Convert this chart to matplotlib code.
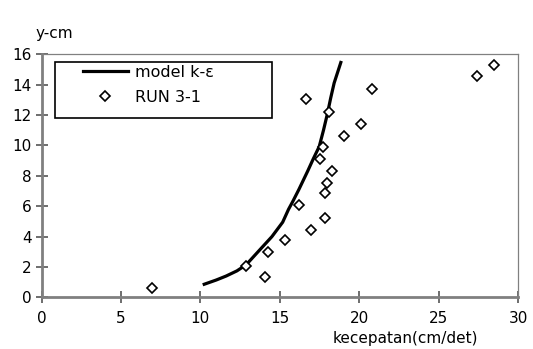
import numpy as np
import matplotlib
matplotlib.use('Agg')
import matplotlib.pyplot as plt
from matplotlib.patches import Rectangle

plt.rcParams['font.family'] = ['DejaVu Sans']

# measured points, RUN 3-1
run_x = [6.96, 12.88, 14.05, 14.24, 15.33, 16.98, 17.82, 16.2, 17.82, 17.94,
         18.28, 17.52, 17.69, 19.05, 20.14, 18.07, 16.65, 20.79, 27.42, 28.5]
run_y = [0.65, 2.09, 1.35, 2.97, 3.76, 4.44, 5.25, 6.06, 6.85, 7.55,
         8.34, 9.13, 9.92, 10.62, 11.41, 12.2, 13.04, 13.72, 14.53, 15.3]

# model k-eps profile
model_x = [10.24, 11.0, 11.62, 12.3, 12.88, 13.71, 14.5, 15.18, 15.55, 15.81,
           16.2, 16.75, 17.1, 17.48, 17.75, 18.0, 18.2, 18.42, 18.84]
model_y = [0.87, 1.15, 1.41, 1.75, 2.15, 3.1, 4.0, 4.95, 5.8, 6.3,
           7.1, 8.3, 9.1, 9.92, 11.0, 12.1, 13.1, 14.1, 15.45]

x_ticks = [0, 5, 10, 15, 20, 25, 30]
y_ticks = [0, 2, 4, 6, 8, 10, 12, 14, 16]

fig = plt.figure(figsize=(5.33, 3.49), dpi=100)
ax = fig.add_axes([0.078, 0.1476, 0.894, 0.6974])

ax.plot(model_x, model_y, color='black', lw=2.3, label='model k-\u03b5', zorder=3)
ax.plot(run_x, run_y, linestyle='none', marker='D', ms=5.5, mfc='white',
        mec='black', mew=1.2, label='RUN 3-1', zorder=4)

ax.set_xlim(0, 30)
ax.set_ylim(0, 16)
ax.set_xticks(x_ticks)
ax.set_yticks(y_ticks)
ax.tick_params(direction='inout', length=8, width=1.2, color='#555555',
               labelsize=11)
ax.tick_params(axis='x', pad=6)
ax.tick_params(axis='y', pad=3)

for side in ['left', 'bottom']:
    ax.spines[side].set_color('#808080')
    ax.spines[side].set_linewidth(2)
for side in ['top', 'right']:
    ax.spines[side].set_color('#808080')
    ax.spines[side].set_linewidth(0.9)

fig.text(0.066, 0.905, 'y-cm', fontsize=11, ha='left', va='center')
fig.text(0.76, 0.03, 'kecepatan(cm/det)', fontsize=11, ha='center', va='center')

# legend frame drawn separately, entries placed inside
fig.patches.append(Rectangle((0.1032, 0.662), 0.407, 0.1605, transform=fig.transFigure,
                             fill=False, edgecolor='black', lw=1.2, zorder=5))
leg = ax.legend(loc='upper left', bbox_to_anchor=(0.087, 0.955), fontsize=11.5,
                frameon=False, handlelength=2.8, borderpad=0, labelspacing=0.6,
                handletextpad=0.45, borderaxespad=0)

fig.savefig('out.png', dpi=100)
